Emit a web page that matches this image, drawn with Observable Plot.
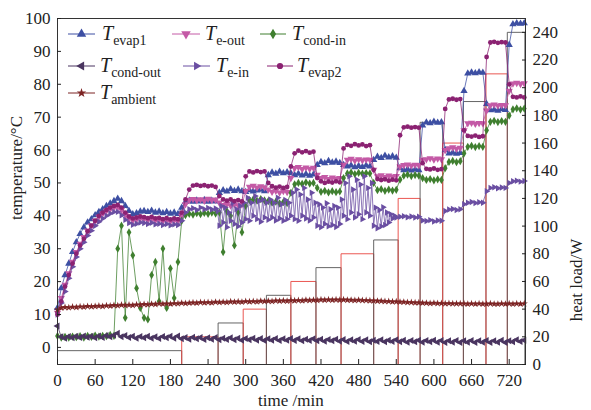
<!DOCTYPE html>
<html><head><meta charset="utf-8">
<script src="https://cdn.jsdelivr.net/npm/d3@7"></script>
<script src="https://cdn.jsdelivr.net/npm/@observablehq/plot@0.6"></script>
<style>
body{margin:0;background:#fff;}
#wrap{position:relative;width:591px;height:410px;font-family:"Liberation Serif",Tinos,"Times New Roman",Times,serif;color:#222;}
.ttl{position:absolute;font-size:17px;white-space:nowrap;line-height:18px;}
.leg{position:absolute;display:flex;align-items:center;height:22px;white-space:nowrap;}
.leg svg{flex:none;}
.leg .tx{font-size:20px;font-style:italic;line-height:22px;}
.leg .sb{font-size:14px;font-style:normal;position:relative;top:5px;}
</style></head>
<body><div id="wrap"></div>
<script>
// time axis (min)
const time = [0,6,12,18,24,30,36,42,48,54,
60,66,72,78,84,90,96,102,108,114,
120,126,132,138,144,150,156,162,168,174,
180,186,192,198,204,210,216,222,228,234,
240,246,252,258,264,270,276,282,288,294,
300,306,312,318,324,330,336,342,348,354,
360,366,372,378,384,390,396,402,408,414,
420,426,432,438,444,450,456,462,468,474,
480,486,492,498,504,510,516,522,528,534,
540,546,552,558,564,570,576,582,588,594,
600,606,612,618,624,630,636,642,648,654,
660,666,672,678,684,690,696,702,708,714,
720,726,732,738,744];

// finer time axis for the noisy T e-in record
const timeEin = [0,6,12,18,24,30,36,42,48,54,
60,66,72,78,84,90,96,102,108,114,
120,126,132,138,144,150,156,162,168,174,
180,186,192,198,204,210,216,222,228,234,
240,246,252,
255,258,261,264,267,270,273,276,279,282,285,288,291,294,
297,300,303,306,309,312,315,318,321,324,327,330,333,
336,339,342,345,348,351,354,357,360,363,366,369,
372,375,378,381,384,387,390,393,396,399,402,405,408,411,
414,417,420,423,426,429,432,435,438,441,444,447,450,
453,456,459,462,465,468,471,474,477,480,483,486,489,492,495,498,501,
504,507,510,513,516,519,522,525,528,531,534,537,540,
546,552,558,564,570,576,
582,588,594,600,606,612,
618,624,630,636,642,
648,654,660,666,672,678,
684,690,696,702,708,714,
720,726,732,738,744];

const tEvap1 = [12,18,22,25.5,29,32,34.5,36.5,38,39,40.2,41.2,42,43,43.8,44.5,45.2,44.5,43,41.5,40.5,40.8,41.3,41.5,41.2,41.6,41,41.3,40.8,41.2,40.7,41,40.6,
42.5,44.2,44.6,44.3,44.7,44.4,44.8,44.3,44.6,44.4,
47,47.8,47.4,48.1,47.6,48,47.5,
47.3,47.8,47.4,47.7,48,47.5,
52.4,53.2,52.8,53.4,53,53.3,
53,52.4,52.8,52.3,52.7,52.2,52.6,
55.5,56.4,56,56.7,56.2,56.5,56.1,
55.5,55,55.3,54.8,55.2,54.9,55.3,55,
57,58,57.6,58.3,57.8,58.1,57.7,
54.5,53.9,54.2,53.8,54.1,53.9,
67.5,68.4,68.2,68.6,68.3,68.5,
60,59,59.2,58.9,59.1,
78,83.3,83.6,83.4,83.7,83.5,
74,72.1,72.3,72,72.4,72.2,
92,98.3,98.6,98.4,98.6];

const tEout = [10.5,15,19,22.5,26,29,31.5,33.5,35.5,37,38.5,39.7,40.7,41.5,42,42.5,42.6,41.8,40.3,39.2,38.6,38.9,39.2,39,38.7,39.1,38.6,38.8,38.4,38.7,38.3,38.6,38.4,
40,43.5,44.8,45.1,44.7,45,44.6,45.2,44.8,44.9,
44,43.3,43.6,43.1,43.5,43.2,43.4,
47.5,48.8,49.1,48.6,49,48.7,
48,47.3,47.6,47.1,47.5,47.2,
51.5,54.5,54.8,54.2,54.7,54.3,54.6,
52.5,51.5,51.8,51.2,51.6,51.3,51.5,
55.5,57,57.3,56.8,57.2,56.9,57.1,57,
54,52,52.3,51.8,52.2,51.9,52.1,
55,55.4,55.6,55.3,55.5,55.4,
57,57.2,57.5,57.1,57.4,57.2,
60,60.5,60.8,60.4,60.7,
66,68.1,68.3,68,68.2,68.1,
72,73.6,73.8,73.5,73.7,73.6,
78,80.2,80.4,80.1,80.3];

const tCondIn = [3.5,3,3.2,3,3.3,3.1,3.4,3,3.5,3.2,3.6,3.3,3.5,3.4,3.8,3.5,
30,37,9,35,28,18,12,9,8.5,22,26,14,30,12,24,15,26,
38.5,40.2,40.6,40.4,40.8,40.5,40.9,40.6,41,40.7,
41,29,41.5,40,31,41,35,
43,44.8,45,44.6,45.1,44.7,
44.5,44,44.3,43.8,44.2,43.9,
47,49.6,50,49.7,50.2,49.8,50,
48.5,47.3,47.6,47.1,47.5,47.2,47.4,
51.5,52.9,53.2,52.7,53.1,52.8,53,52.9,
50,47.8,48.1,47.6,48,47.7,47.9,
51,52.2,52.5,52.1,52.4,52.2,
51.5,50.9,51.2,50.8,51.1,50.9,
54.5,56.4,56.7,56.3,56.6,
59,61,61.3,60.9,61.2,61,
66,68.6,68.9,68.5,68.8,68.6,
70.5,72.4,72.7,72.3,72.6];

const tCondOut = [6.5,3.2,2.8,3.3,2.9,3.4,3,3.5,3.1,3.4,2.9,3.5,3,3.6,3.2,3.7,4.3,3.2,3.6,3,3.4,2.8,3.3,2.9,3.4,2.8,3.2,2.7,3.3,2.9,3.4,2.8,3.5,
2.6,3,2.5,3.1,2.6,3,2.4,2.9,2.5,3,2.3,2.8,2.4,2.9,2.3,2.8,2.2,2.7,2.3,2.8,2.2,2.7,2.1,2.6,2.2,2.7,2.1,2.6,2.2,2.7,
2.1,2.6,2,2.5,2.1,2.6,2,2.5,1.9,2.4,
2,2.5,1.9,2.4,1.8,2.3,1.9,2.4,1.8,2.3,
1.7,2.2,1.8,2.3,1.7,2.2,1.8,2.3,1.7,2.2,
1.6,2.1,1.7,2.2,1.6,2.1,1.7,2.2,1.6,2.1,
1.5,2,1.6,2.1,1.5,2,1.6,2.1,1.5,2,
1.6,2.1,1.5,2,1.6,2.2,1.5,2,1.7,2.3,
1.8,2.2];

const tEin = [10,13.5,17,21,24.5,27.5,30,32,34,35.5,37,38.2,39.2,40,40.7,41.2,41.2,40.2,38.8,37.8,37.3,37.6,38,37.8,37.5,37.9,37.4,37.6,37.2,37.5,37.1,37.4,37.2,
38.5,41,42,42.3,41.8,42.5,42,42.4,41.9,42.2,
41.5,37,43,38,42.5,36.5,41,38.5,44,37.5,42,36.8,43,38,
44,39,45.5,38.5,44,40,46,39,44.5,38.2,45,39.5,44,
38.8,45,39.5,44,38.6,45.5,39.2,43.5,38.5,44.8,39,44,
40,47,39,48,38.5,46.5,40,48.5,39.2,45,38.6,47,39.5,44,
37,43.5,36.5,42.5,37.5,43.8,36.8,42,37.2,43,36.6,42.5,37.5,
45,40,50,39,52,41,48,39.5,51,40.5,49.5,39,52,41,48.5,40,50,
37,42.5,36.2,41.8,36.8,42.6,37.2,41,38,40.5,39.2,40,39.5,
39.7,39.9,39.6,39.8,39.5,39.7,
38.6,38.4,38.7,38.3,38.6,38.5,
41.5,41.9,42.1,41.8,42,
43.5,44,44.2,43.9,44.1,44,
47.5,48.5,48.7,48.4,48.6,48.5,
50,50.5,50.7,50.4,50.6];

const tEvap2 = [10,14,18.5,22,25.5,28.5,31,33,35.3,37,38.5,40,41,41.8,42.5,43,43.3,42.5,41,39.8,39.2,39.5,39.8,39.6,39.3,39.7,39.2,39.4,39,39.3,38.9,39.2,39,
41,45,48,49.2,49.4,49.1,49.3,49,49.2,48.8,
46,45,44.6,45,44.5,44.8,44.4,
52,53.5,53.2,53.6,53.3,53.5,
50,49,48.6,48.9,48.5,48.8,
55,59,59.8,59.3,59.7,59.2,59.5,
51.5,50.5,50,50.4,50.1,50.5,50.2,
60.5,61.6,61.3,61.8,61.4,61.7,61.2,61.5,
54,51.2,50.9,51.1,50.7,51,50.8,
64.5,66.9,67.1,66.8,67,66.8,
56,54.3,54.1,54.4,54,54.2,
72.5,75.4,75.6,75.3,75.5,
66,64.3,64.1,64.4,64,64.2,
88.3,92.7,92.9,92.6,92.8,92.7,
80,76.2,76,76.3,76];

const tAmbient = [11.5,12,12.2,12.1,12.3,12.2,12.4,12.3,12.5,12.4,12.5,12.6,12.5,12.7,12.6,12.8,12.7,12.9,12.8,12.9,12.8,13,12.9,13.1,13,13.2,13.1,13.3,13.2,13.3,13.2,13.4,13.3,
13.5,13.4,13.5,13.6,13.5,13.7,13.6,13.7,13.6,13.8,13.7,13.8,13.7,13.9,13.8,13.9,13.8,14,13.9,14,13.9,14.1,14,14.1,14,14.2,14.1,14.2,14.1,14.3,
14.2,14.3,14.2,14.4,14.3,14.4,14.3,14.5,14.4,14.5,14.4,14.5,14.4,14.5,14.4,14.4,14.3,14.4,14.3,14.3,14.2,14.2,14.1,14.1,14,14,13.9,13.9,13.8,13.8,
13.7,13.7,13.6,13.6,13.5,13.5,13.4,13.5,13.4,13.4,13.3,13.4,13.3,13.3,13.3,13.3,13.2,13.3,13.2,13.3,13.2,13.2,13.3,13.2,13.2,13.3,13.2,13.3,13.2,13.3,13.2,13.3];

// heat load steps (W)
const loadStart = [0,198,256,296,333,372,412,452,504,543,578,614,647,683,717];
const loadEnd   = [198,256,296,333,372,412,452,504,543,578,614,647,683,717,745];
const loadW     = [10,20,30,40,50,60,70,80,90,120,175,160,190,210,240];

const xTicks = [0,60,120,180,240,300,360,420,480,540,600,660,720];
const yTicks = [0,10,20,30,40,50,60,70,80,90,100];
const wTicks = [0,20,40,60,80,100,120,140,160,180,200,220,240];

const yMin = -5.2, yMax = 100, wMax = 250, xMax = 746;
const toT = w => yMin + w * (yMax - yMin) / wMax;
const toW = t => (t - yMin) * wMax / (yMax - yMin);

const series = [
  {key:"evap1", t:time, vals:tEvap1, color:"#3d4fa3", symbol:"triangle", rotate:0, r:2.7},
  {key:"e-out", t:time, vals:tEout, color:"#c45aa6", symbol:"triangle", rotate:180, r:2.7},
  {key:"cond-in", t:time, vals:tCondIn, color:"#3f7f2f", symbol:"diamond", rotate:0, r:2.5},
  {key:"cond-out", t:time, vals:tCondOut, color:"#4a3560", symbol:"triangle", rotate:-90, r:2.6},
  {key:"e-in", t:timeEin, vals:tEin, color:"#6a4ea2", symbol:"triangle", rotate:90, r:2.4},
  {key:"evap2", t:time, vals:tEvap2, color:"#8b2272", symbol:"circle", rotate:0, r:2.4},
  {key:"ambient", t:time, vals:tAmbient, color:"#7d2424", symbol:"star", rotate:0, r:2.3}
];

const heatRows = [];
loadStart.forEach((s, i) => {
  const e = loadEnd[i], w = loadW[i], c = i % 2 ? "#e8453f" : "#555";
  heatRows.push({t:s, v:0, seg:i, c}, {t:s, v:w, seg:i, c}, {t:e, v:w, seg:i, c}, {t:e, v:0, seg:i, c});
});

const marks = [
  Plot.line(heatRows, {x:"t", y:d => toT(d.v), z:"seg", stroke:"c", strokeWidth:1, strokeOpacity:0.9})
];
for (const s of series) {
  marks.push(Plot.line(s.t, {x:d => d, y:(d, i) => s.vals[i], stroke:s.color, strokeWidth:0.9, strokeOpacity:0.85}));
  marks.push(Plot.dot(s.t, {x:d => d, y:(d, i) => s.vals[i], fill:s.color, symbol:s.symbol, rotate:s.rotate, r:s.r, stroke:"none"}));
}
marks.push(
  Plot.frame({stroke:"#333", strokeWidth:1}),
  Plot.axisX({ticks:xTicks, tickSize:-5, tickPadding:14, label:null}),
  Plot.axisY({anchor:"left", ticks:yTicks, tickSize:-4, tickPadding:11, label:null}),
  Plot.axisY({anchor:"right", ticks:wTicks.map(toT), tickFormat:d => Math.round(toW(d)), tickSize:-4, tickPadding:11, label:null})
);

const chart = Plot.plot({
  width:591, height:410,
  marginLeft:57, marginRight:66, marginTop:18, marginBottom:46,
  style:{fontFamily:"'Liberation Serif',Tinos,'Times New Roman',Times,serif", fontSize:"17px", color:"#222", background:"#fff"},
  x:{domain:[0, xMax]},
  y:{domain:[yMin, yMax]},
  color:{type:"identity"},
  marks
});
const wrap = document.getElementById("wrap");
wrap.appendChild(chart);

// axis titles
function addTitle(text, cx, cy, rot) {
  const d = document.createElement("div");
  d.className = "ttl";
  d.textContent = text;
  wrap.appendChild(d);
  const w = d.offsetWidth, h = d.offsetHeight;
  d.style.left = (cx - w / 2) + "px";
  d.style.top = (cy - h / 2) + "px";
  if (rot) d.style.transform = `rotate(${rot}deg)`;
}
addTitle("time /min", 291, 401, 0);
addTitle("temperature/°C", 17, 168, -90);
addTitle("heat load/W", 577, 280, -90);

// legend
const legendPos = [
  {x:68, y:34, len:27, gap:7},
  {x:172, y:34, len:28, gap:5},
  {x:260, y:34, len:26, gap:6},
  {x:68, y:66, len:27, gap:5},
  {x:183, y:66, len:27, gap:6},
  {x:267, y:66, len:26, gap:4},
  {x:68, y:93, len:27, gap:5}
];
const symMap = {triangle:d3.symbolTriangle, diamond:d3.symbolDiamond, circle:d3.symbolCircle, star:d3.symbolStar};
series.forEach((s, i) => {
  const p = legendPos[i];
  const div = document.createElement("div");
  div.className = "leg";
  div.style.left = p.x + "px";
  div.style.top = (p.y - 11) + "px";
  const sw = p.len + p.gap;
  const size = Math.PI * (s.r * 1.3) ** 2;
  const path = d3.symbol(symMap[s.symbol], size)();
  div.innerHTML = `<svg width="${sw}" height="22"><line x1="0" x2="${p.len}" y1="11" y2="11" stroke="${s.color}" stroke-width="1"/>` +
    `<path d="${path}" fill="${s.color}" transform="translate(${p.len / 2},11) rotate(${s.rotate})"/></svg>` +
    `<span class="tx">T<span class="sb">${s.key}</span></span>`;
  wrap.appendChild(div);
});
</script>
</body></html>
